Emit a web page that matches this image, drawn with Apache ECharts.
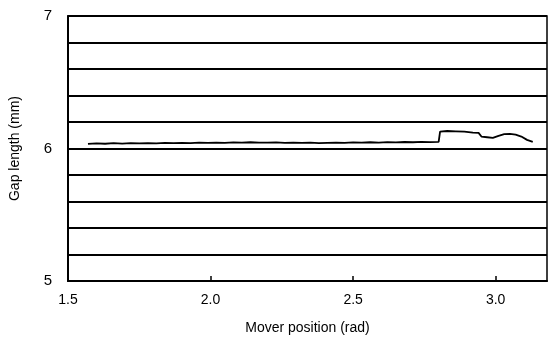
<!DOCTYPE html>
<html><head><meta charset="utf-8">
<script src="https://cdn.jsdelivr.net/npm/echarts@6/dist/echarts.min.js"></script>
<style>html,body{margin:0;padding:0;background:#fff}#c{width:548px;height:343px}</style>
</head><body><div id="c"></div>
<script>
const xValues = [1.57,1.60,1.63,1.66,1.69,1.72,1.75,1.78,1.81,1.84,1.87,1.90,1.93,1.96,1.99,2.02,2.05,2.08,2.11,2.14,2.17,2.20,2.23,2.26,2.29,2.32,2.35,2.38,2.41,2.44,2.47,2.50,2.53,2.56,2.59,2.62,2.65,2.68,2.71,2.74,2.77,2.80,2.805,2.83,2.86,2.89,2.92,2.94,2.95,2.97,2.99,3.01,3.03,3.05,3.07,3.09,3.11,3.13];
const gapValues = [6.035,6.038,6.036,6.040,6.037,6.040,6.038,6.041,6.039,6.042,6.040,6.043,6.041,6.044,6.042,6.045,6.043,6.046,6.044,6.047,6.045,6.044,6.046,6.043,6.045,6.042,6.044,6.041,6.043,6.045,6.042,6.046,6.044,6.047,6.045,6.048,6.046,6.049,6.047,6.050,6.048,6.050,6.128,6.132,6.130,6.128,6.120,6.118,6.090,6.085,6.080,6.095,6.108,6.110,6.104,6.090,6.065,6.050];
const xTickLabels = ['1.5','2.0','2.5','3.0'];
const yTickLabels = ['5','6','7'];

const chart = echarts.init(document.getElementById('c'));
const font = 'Liberation Sans, Arial, sans-serif';
chart.setOption({
  animation: false,
  grid: {left: 68, right: 1, top: 16, bottom: 62, show: true, borderColor: '#000', borderWidth: 1.5},
  xAxis: {
    type: 'value', min: 1.5, max: 3.18, interval: 0.5,
    axisLine: {show: true, lineStyle: {color: '#000', width: 2}},
    axisTick: {show: true, inside: true, length: 5, lineStyle: {color: '#000', width: 1.5}},
    splitLine: {show: false},
    axisLabel: {color: '#000', fontSize: 14, fontFamily: font, margin: 12, showMaxLabel: false,
      formatter: v => { const s = v.toFixed(1); return xTickLabels.includes(s) ? s : ''; }},
    name: 'Mover position (rad)', nameLocation: 'middle', nameGap: 40,
    nameTextStyle: {color: '#000', fontSize: 14, fontFamily: font}
  },
  yAxis: {
    type: 'value', min: 5, max: 7, interval: 0.2,
    axisLine: {show: true, lineStyle: {color: '#000', width: 2}},
    axisTick: {show: false},
    splitLine: {show: true, lineStyle: {color: '#000', width: 2}},
    axisLabel: {color: '#000', fontSize: 15, fontFamily: font, margin: 16,
      formatter: v => { const s = String(Math.round(v*10)/10); return yTickLabels.includes(s) ? s : ''; }},
    name: 'Gap length (mm)', nameLocation: 'middle', nameGap: 46, nameRotate: 90,
    nameTextStyle: {color: '#000', fontSize: 14, fontFamily: font}
  },
  series: [{
    type: 'line', showSymbol: false,
    data: xValues.map((x, i) => [x, gapValues[i]]),
    lineStyle: {color: '#000', width: 1.8}
  }]
});
</script></body></html>
